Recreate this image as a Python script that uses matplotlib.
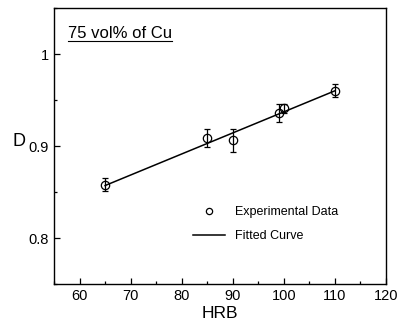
import matplotlib
matplotlib.use("Agg")
import matplotlib.pyplot as plt
from matplotlib.lines import Line2D
from matplotlib.ticker import MultipleLocator

# data
hrb = [65, 85, 90, 99, 100, 110]
d_vals = [0.858, 0.909, 0.906, 0.936, 0.941, 0.960]
d_err = [0.007, 0.010, 0.012, 0.010, 0.005, 0.007]
fit_x = [65, 110]
fit_y = [0.857, 0.960]

plt.rcParams["font.family"] = ["Liberation Sans", "DejaVu Sans"]

fig = plt.figure(figsize=(4.02, 3.28), dpi=100)
ax = fig.add_axes([54 / 402, 1 - 284 / 328, 332 / 402, 276 / 328])

# fitted line and data with error bars
ax.plot(fit_x, fit_y, color="black", linewidth=1.1)
ax.errorbar(hrb, d_vals, yerr=d_err, fmt="o", mfc="none", mec="black",
            ecolor="black", ms=6, mew=0.9, elinewidth=0.9, capsize=2.5, capthick=0.9)

ax.set_xlim(55, 120)
ax.set_ylim(0.75, 1.05)
ax.xaxis.set_major_locator(MultipleLocator(10))
ax.xaxis.set_minor_locator(MultipleLocator(5))
ax.yaxis.set_minor_locator(MultipleLocator(0.05))
ax.set_yticks([0.8, 0.9, 1.0])
ax.set_yticklabels(["0.8", "0.9", "1"])
ax.tick_params(which="both", direction="in", labelsize=10.5, width=0.9)
ax.tick_params(which="major", length=4)
ax.tick_params(which="minor", length=2.5)
for s in ax.spines.values():
    s.set_linewidth(1.0)

ax.set_xlabel("HRB", fontsize=12.5, labelpad=2)
fig.text(13 / 402, 1 - 142 / 328, "D", fontsize=13, va="center", ha="left")

ax.text(0.042, 0.907, "75 vol% of Cu", transform=ax.transAxes, fontsize=12,
        ha="left", va="center")
ax.plot([0.042, 0.355], [0.881, 0.881], transform=ax.transAxes, color="black",
        linewidth=0.8)

handles = [
    Line2D([], [], marker="o", linestyle="none", mfc="none", mec="black", ms=4.5, mew=0.9),
    Line2D([], [], color="black", linewidth=1.1),
]
ax.legend(handles, ["Experimental Data", "Fitted Curve"], loc="upper left",
          bbox_to_anchor=(188 / 402, 1 - 201 / 328), bbox_transform=fig.transFigure,
          frameon=False, fontsize=9, handlelength=2.6, handletextpad=0.8,
          labelspacing=0.95, borderaxespad=0)

fig.savefig("out.png", dpi=100)
